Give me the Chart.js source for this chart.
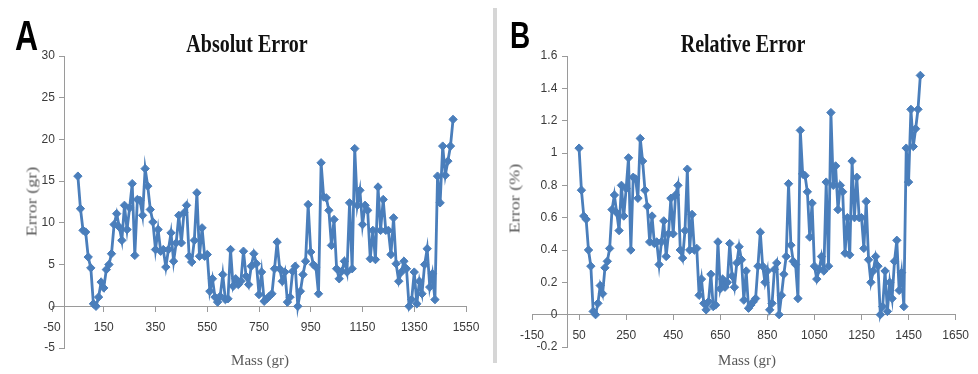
<!DOCTYPE html>
<html>
<head>
<meta charset="utf-8">
<script src="https://cdn.jsdelivr.net/npm/chart.js@4/dist/chart.umd.min.js"></script>
<style>
html,body{margin:0;padding:0;background:#fff;}
body{width:978px;height:374px;position:relative;overflow:hidden;}
canvas{position:absolute;top:0;}
.t{position:absolute;white-space:nowrap;line-height:1;}
.letter{font-family:"Liberation Sans",Arial,sans-serif;font-weight:bold;color:#000;transform-origin:left top;}
.title{font-family:"Liberation Serif","Times New Roman",serif;font-weight:bold;color:#111;font-size:20px;transform-origin:center top;}
.ax{font-family:"Liberation Serif","Times New Roman",serif;color:#595959;font-size:15px;}
.sep{position:absolute;left:493px;top:8px;width:4px;height:355px;background:#d6d6d6;}
</style>
</head>
<body>
<canvas id="cA" width="492" height="374" style="left:0px"></canvas>
<canvas id="cB" width="480" height="374" style="left:498px"></canvas>
<div class="sep"></div>
<div class="t letter" style="left:15px;top:15px;font-size:32px;transform:scaleY(1.3)">A</div>
<div class="t letter" style="left:510px;top:17px;font-size:28px;transform:scaleY(1.35)">B</div>
<div class="t title" style="left:147px;width:200px;text-align:center;top:31px;transform:scaleY(1.25)">Absolut Error</div>
<div class="t title" style="left:643px;width:200px;text-align:center;top:31px;transform:scaleY(1.25)">Relative Error</div>
<div class="t ax" style="left:-18px;width:100px;text-align:center;top:194px;transform:rotate(-90deg) scaleX(1.2)">Error (gr)</div>
<div class="t ax" style="left:465px;width:100px;text-align:center;top:191px;transform:rotate(-90deg) scaleX(1.2)">Error (%)</div>
<div class="t ax" style="left:210px;width:100px;text-align:center;top:353px;">Mass (gr)</div>
<div class="t ax" style="left:697px;width:100px;text-align:center;top:353px;">Mass (gr)</div>
<script>
const masses = [50,60,70,80,90,100,110,120,130,140,150,160,170,180,190,200,210,220,230,240,250,260,270,280,290,300,310,320,330,340,350,360,370,380,390,400,410,420,430,440,450,460,470,480,490,500,510,520,530,540,550,560,570,580,590,600,610,620,630,640,650,660,670,680,690,700,710,720,730,740,750,760,770,780,790,800,810,820,830,840,850,860,870,880,890,900,910,920,930,940,950,960,970,980,990,1000,1010,1020,1030,1040,1050,1060,1070,1080,1090,1100,1110,1120,1130,1140,1150,1160,1170,1180,1190,1200,1210,1220,1230,1240,1250,1260,1270,1280,1290,1300,1310,1320,1330,1340,1350,1360,1370,1380,1390,1400,1410,1420,1430,1440,1450,1460,1470,1480,1490,1500];

const absErr = [
15.6,11.7,9.1,8.9,5.9,4.6,0.3,0.0,1.1,2.9,
2.2,4.4,5.0,6.3,9.8,11.1,9.5,7.9,12.1,9.2,
11.8,14.7,6.1,12.8,12.7,10.9,16.5,14.4,11.6,10.1,
6.8,9.2,6.6,6.8,4.7,6.8,8.8,5.4,7.6,10.9,
7.6,11.2,12.1,6.0,5.3,7.9,13.6,6.0,9.4,6.0,
6.2,1.8,3.3,1.1,0.5,1.2,3.8,0.8,0.9,6.8,
2.4,3.3,2.6,3.0,6.6,3.6,2.6,4.8,6.3,5.1,
1.4,4.1,0.6,0.9,1.2,1.5,4.5,7.7,4.5,3.0,
4.1,0.5,1.1,4.2,4.8,0.0,1.8,3.8,5.4,12.2,
6.5,5.0,4.7,1.5,17.2,13.1,13.0,11.5,7.3,10.4,
4.5,3.3,4.2,5.4,4.1,12.4,4.5,18.9,12.1,13.9,
9.8,12.1,11.5,5.7,9.1,5.6,14.3,9.1,12.8,9.1,
9.1,6.2,10.6,5.1,3.0,4.1,5.4,4.5,0.0,0.8,
4.1,0.3,3.0,1.5,5.0,6.9,2.3,3.9,0.8,15.6,
12.4,19.2,15.7,17.4,19.2,22.4];

const relErr = [
1.03,0.77,0.61,0.59,0.40,0.30,0.02,0.00,0.07,0.18,
0.13,0.29,0.33,0.41,0.65,0.74,0.63,0.52,0.80,0.61,
0.78,0.97,0.40,0.85,0.84,0.72,1.09,0.95,0.77,0.67,
0.45,0.61,0.44,0.45,0.31,0.45,0.58,0.36,0.50,0.72,
0.50,0.74,0.80,0.40,0.35,0.52,0.90,0.40,0.62,0.40,
0.41,0.12,0.22,0.07,0.03,0.08,0.25,0.05,0.06,0.45,
0.16,0.22,0.17,0.20,0.44,0.24,0.17,0.32,0.42,0.34,
0.09,0.27,0.04,0.06,0.08,0.10,0.30,0.51,0.30,0.20,
0.27,0.03,0.07,0.28,0.32,0.00,0.12,0.25,0.36,0.81,
0.43,0.33,0.31,0.10,1.14,0.87,0.86,0.76,0.48,0.69,
0.30,0.22,0.28,0.36,0.27,0.82,0.30,1.25,0.80,0.92,
0.65,0.80,0.76,0.38,0.60,0.37,0.95,0.60,0.85,0.60,
0.60,0.41,0.70,0.34,0.20,0.27,0.36,0.30,0.00,0.05,
0.27,0.02,0.20,0.10,0.33,0.46,0.15,0.26,0.05,1.03,
0.82,1.27,1.04,1.15,1.27,1.48];

const xTicksA = [-50,150,350,550,750,950,1150,1350,1550];
const yTicksA = [-5,0,5,10,15,20,25,30];
const xTicksB = [-150,50,250,450,650,850,1050,1250,1450,1650];
const yTicksB = [-0.2,0,0.2,0.4,0.6,0.8,1,1.2,1.4,1.6];

const BLUE = '#4a7ebb';
const AXC = '#9a9a9a';
const tickFont = {family: '"Liberation Sans", Arial, sans-serif', size: 12};
const tickColor = '#3a3a3a';
const GAP = '   ';

function makeChart(id, values, xT, yT, pad, yFmt) {
  const pts = masses.map((m, i) => ({x: m, y: values[i]}));
  return new Chart(document.getElementById(id), {
    type: 'line',
    data: {datasets: [{
      data: pts,
      borderColor: BLUE,
      backgroundColor: BLUE,
      borderWidth: 2.8,
      tension: 0,
      pointStyle: 'rectRot',
      pointRadius: 4.2,
      pointBackgroundColor: BLUE,
      pointBorderColor: BLUE,
      pointBorderWidth: 1,
      clip: false
    }]},
    options: {
      responsive: false,
      animation: false,
      events: [],
      layout: {padding: pad},
      plugins: {legend: {display: false}, tooltip: {enabled: false}},
      scales: {
        x: {
          type: 'linear',
          position: {y: 0},
          min: xT[0], max: xT[xT.length - 1],
          afterBuildTicks: s => { s.ticks = xT.map(v => ({value: v})); },
          afterFit: s => { s.height = 0; },
          grid: {display: true, drawOnChartArea: false, drawTicks: true, tickLength: 5, color: AXC},
          border: {display: true, color: AXC, width: 1},
          ticks: {font: tickFont, color: tickColor, padding: 9, maxRotation: 0, autoSkip: false, callback: v => String(v)}
        },
        y: {
          type: 'linear',
          position: {x: 0},
          min: yT[0], max: yT[yT.length - 1],
          afterBuildTicks: s => { s.ticks = yT.map(v => ({value: v})); },
          afterFit: s => { s.width = 0; },
          grid: {display: true, drawOnChartArea: false, drawTicks: true, tickLength: 5, color: AXC},
          border: {display: true, color: AXC, width: 1},
          ticks: {font: tickFont, color: tickColor, padding: 4, autoSkip: false, callback: v => yFmt(v) + GAP}
        }
      }
    }
  });
}

makeChart('cA', absErr, xTicksA, yTicksA, {left: 52, right: 26, top: 56, bottom: 26}, v => String(v));
makeChart('cB', relErr, xTicksB, yTicksB, {left: 34, right: 19, top: 56, bottom: 27}, v => String(Math.round(v * 10) / 10));
</script>
</body>
</html>
